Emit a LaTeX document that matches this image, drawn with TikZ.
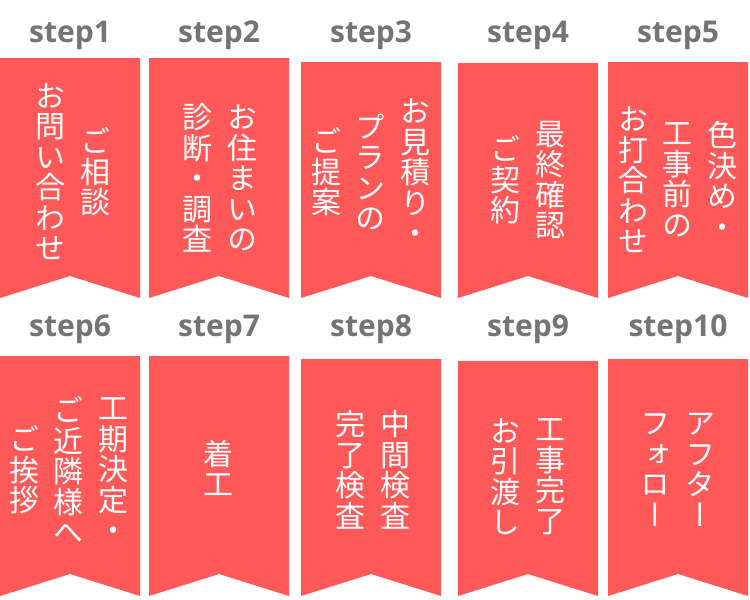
\documentclass[tikz,border=0pt]{standalone}
\usepackage{fontspec}
\usetikzlibrary{positioning}
\newfontfamily\stepfont{Open Sans}
\newfontfamily\jpfont{Noto Sans CJK JP}[RawFeature=+vert]
\definecolor{ribbonred}{RGB}{255,88,88}
\definecolor{stepgray}{RGB}{116,116,116}

\begin{document}
\begin{tikzpicture}[x=1pt,y=-1pt,
    ribbon/.style={minimum width=140pt,minimum height=#1,anchor=south west,inner sep=0pt,outer sep=0pt},
    steplabel/.style={anchor=base,text=stepgray,inner sep=0pt,font=\stepfont\bfseries\fontsize{30}{36}\selectfont},
    tatecol/.style={text=white,align=center,inner sep=0pt,font=\jpfont\fontsize{30}{30.5}\selectfont}]
    \useasboundingbox (0,0) rectangle (750,600);

    %top row ribbons
    \node[ribbon=240pt] (b1) at (0,298) {};
    \node[ribbon=240pt] (b2) at (149,298) {};
    \node[ribbon=236pt] (b3) at (301,298) {};
    \node[ribbon=235pt] (b4) at (458,298) {};
    \node[ribbon=236pt] (b5) at (608,298) {};

    %bottom row ribbons
    \node[ribbon=240pt] (b6) at (0,596) {};
    \node[ribbon=240pt] (b7) at (149,596) {};
    \node[ribbon=237pt] (b8) at (301,596) {};
    \node[ribbon=235pt] (b9) at (458,596) {};
    \node[ribbon=237pt] (b10) at (608,596) {};

    %ribbon fill with notch
    \foreach \b in {1,...,10}
    \fill[ribbonred] (b\b.north west) -- (b\b.north east) -- (b\b.south east)
        -- ([yshift=22pt]b\b.south) -- (b\b.south west) -- cycle;

    %step labels
    \node[steplabel] (s1) at (b1.north |- 0,42) {step1};
    \node[steplabel] (s2) at (b2.north |- 0,42) {step2};
    \node[steplabel] (s3) at (b3.north |- 0,42) {step3};
    \node[steplabel] (s4) at (b4.north |- 0,42) {step4};
    \node[steplabel] (s5) at (b5.north |- 0,42) {step5};
    \node[steplabel] (s6) at (b6.north |- 0,336) {step6};
    \node[steplabel] (s7) at (b7.north |- 0,336) {step7};
    \node[steplabel] (s8) at (b8.north |- 0,336) {step8};
    \node[steplabel] (s9) at (b9.north |- 0,336) {step9};
    \node[steplabel] (s10) at (b10.north |- 0,336) {step10};

    %step1 text
    \node[tatecol] (c1a) at (95,172) {ご\\相\\談};
    \node[tatecol] (c1b) [left=14pt of c1a] {お\\問\\い\\合\\わ\\せ};

    %step2 text
    \node[tatecol] (c2a) at (242,178) {お\\住\\ま\\い\\の};
    \node[tatecol] (c2b) [left=14pt of c2a] {診\\断\\・\\調\\査};

    %step3 text
    \node[tatecol] (c3a) at (415,172) {お\\見\\積\\り\\・};
    \node[tatecol] (c3b) [left=14pt of c3a] {プ\\ラ\\ン\\の};
    \node[tatecol] (c3c) [left=14pt of c3b] {ご\\提\\案};

    %step4 text
    \node[tatecol] (c4a) at (550,180) {最\\終\\確\\認};
    \node[tatecol] (c4b) [left=14pt of c4a] {ご\\契\\約};

    %step5 text
    \node[tatecol] (c5a) at (722,180) {色\\決\\め\\・};
    \node[tatecol] (c5b) [left=14pt of c5a] {工\\事\\前\\の};
    \node[tatecol] (c5c) [left=14pt of c5b] {お\\打\\合\\わ\\せ};

    %step6 text
    \node[tatecol] (c6a) at (113,470) {工\\期\\決\\定\\・};
    \node[tatecol] (c6b) [left=14pt of c6a] {ご\\近\\隣\\様\\へ};
    \node[tatecol] (c6c) [left=14pt of c6b] {ご\\挨\\拶};

    %step7 text
    \node[tatecol] (c7a) at (218,468) {着\\工};

    %step8 text
    \node[tatecol] (c8a) at (395,470) {中\\間\\検\\査};
    \node[tatecol] (c8b) [left=14pt of c8a] {完\\了\\検\\査};

    %step9 text
    \node[tatecol] (c9a) at (550,477) {工\\事\\完\\了};
    \node[tatecol] (c9b) [left=14pt of c9a] {お\\引\\渡\\し};

    %step10 text
    \node[tatecol] (c10a) at (700,470) {ア\\フ\\タ\\ー};
    \node[tatecol] (c10b) [left=14pt of c10a] {フ\\ォ\\ロ\\ー};

\end{tikzpicture}
\end{document}
